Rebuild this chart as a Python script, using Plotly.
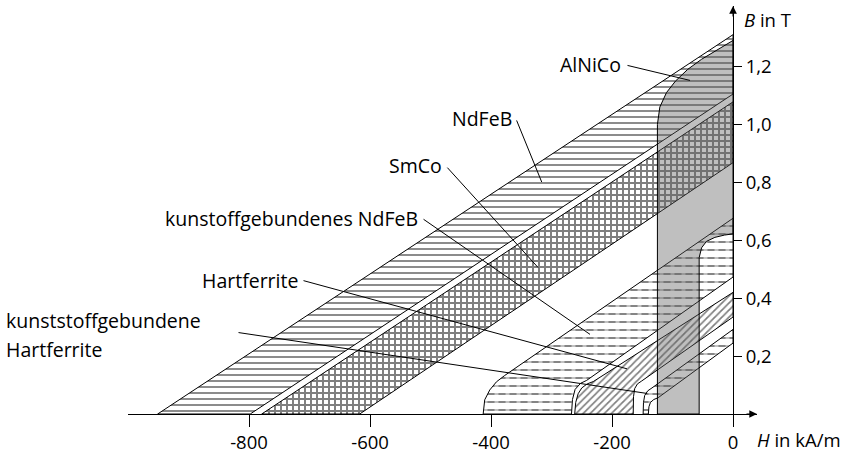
import plotly.graph_objects as go

# ---------------- data ----------------
H_TICKS = [-800, -600, -400, -200, 0]
H_TICK_TEXT = ["-800", "-600", "-400", "-200", "0"]
B_TICKS = [0.2, 0.4, 0.6, 0.8, 1.0, 1.2]
B_TICK_TEXT = ["0,2", "0,4", "0,6", "0,8", "1,0", "1,2"]

# demagnetisation curves (H in kA/m, B in T): upper (hi) and lower (lo) limit of each band
ndfeb_hi_H = [-951, 0]
ndfeb_hi_B = [0, 1.31]
ndfeb_lo_H = [-798, 0]
ndfeb_lo_B = [0, 1.105]

smco_hi_H = [-779, 0]
smco_hi_B = [0, 1.078]
smco_lo_H = [-617, 0]
smco_lo_B = [0, 0.868]

kndfeb_hi_H = [-413, -410.4, -402.1, -391.1, -377.4, -369.1, 0]
kndfeb_hi_B = [0, 0.049, 0.083, 0.111, 0.133, 0.145, 0.676]
kndfeb_lo_H = [-267, -265.4, -261, -252, -242, 0]
kndfeb_lo_B = [0, 0.05, 0.085, 0.106, 0.116, 0.473]

hf_hi_H = [-261.7, -260, -256, -250, -241, -231, 0]
hf_hi_B = [0, 0.04, 0.07, 0.09, 0.104, 0.112, 0.42]
hf_lo_H = [-165, -164.5, -162.5, -158, -151, 0]
hf_lo_B = [0, 0.06, 0.088, 0.104, 0.114, 0.335]

khf_hi_H = [-148.6, -148, -146, -141, -134, 0]
khf_hi_B = [0, 0.04, 0.064, 0.08, 0.09, 0.292]
khf_lo_H = [-140, -139, -136.5, -131, -124, 0]
khf_lo_B = [0, 0.025, 0.04, 0.05, 0.056, 0.245]

alnico_hi_H = [-125, -125, -121, -110, -95, -75, -52, -25, 0]
alnico_hi_B = [0, 1.0, 1.06, 1.11, 1.15, 1.19, 1.225, 1.26, 1.29]
alnico_lo_H = [-56, -56, -52, -44, -30, -14, 0]
alnico_lo_B = [0, 0.54, 0.574, 0.596, 0.61, 0.618, 0.622]

# labels and leader lines (leader tail / head in H, B)
LABELS = ["AlNiCo", "NdFeB", "SmCo", "kunstoffgebundenes NdFeB", "Hartferrite",
          "kunststoffgebundene", "Hartferrite"]
LEADER_TAIL_H = [-176.9, -358.7, -474.4, -514.0, -712.4, -819.8]
LEADER_TAIL_B = [1.205, 1.019, 0.856, 0.676, 0.462, 0.282]
LEADER_HEAD_H = [-71.1, -316.2, -322.3, -236.4, -175.2, -142.1]
LEADER_HEAD_B = [1.152, 0.801, 0.506, 0.275, 0.156, 0.071]

# ---------------- layout geometry ----------------
W, HGT = 845, 460
ML, MR, MT, MB = 128, 88, 6, 39
X_RANGE = [-1000, 39.6]
Y_RANGE = [0, 1.409]
PW, PH = W - ML - MR, HGT - MT - MB


def px(xpix):
    return (xpix - ML) / PW


def py(ypix):
    return (HGT - MB - ypix) / PH


# label anchor positions in pixels
LABEL_PX = [623, 514, 444, 420, 300, 4, 4]
LABEL_PY = [66, 120, 168, 222, 285, 326, 355]
LABEL_ANCHOR = ["right", "right", "right", "right", "right", "left", "left"]

FONT = "Open Sans"
FS_LABEL = 19.5
FS_TICK = 18.5

fig = go.Figure()


def band(hiH, hiB, loH, loB):
    xs = list(hiH) + list(loH)[::-1] + [hiH[0]]
    ys = list(hiB) + list(loB)[::-1] + [hiB[0]]
    return xs, ys


def add_fill(xs, ys, pattern=None, fillcolor="rgba(0,0,0,0)", lw=1.0):
    kw = dict(x=xs, y=ys, mode="lines", fill="toself", fillcolor=fillcolor,
              line=dict(color="black", width=lw), hoverinfo="skip", showlegend=False)
    if pattern is not None:
        kw["fillpattern"] = pattern
    fig.add_trace(go.Scatter(**kw))


WHITE = "white"
CLEAR = "rgba(0,0,0,0)"

# NdFeB: horizontal lines
x, y = band(ndfeb_hi_H, ndfeb_hi_B, ndfeb_lo_H, ndfeb_lo_B)
add_fill(x, y, dict(shape="-", size=6, solidity=0.3, fgcolor="black", bgcolor=WHITE))

# SmCo: cross hatch
x, y = band(smco_hi_H, smco_hi_B, smco_lo_H, smco_lo_B)
add_fill(x, y, dict(shape="+", size=6, solidity=0.55, fgcolor="black", bgcolor=WHITE))

# plastic bonded NdFeB: dashes
DASH_ROWS = dict(shape="-", size=8, solidity=0.24, fgcolor="black", bgcolor=WHITE)
DASH_GAPS = dict(shape="|", size=11, solidity=0.36, fgcolor=WHITE, bgcolor=CLEAR)
x, y = band(kndfeb_hi_H, kndfeb_hi_B, kndfeb_lo_H, kndfeb_lo_B)
add_fill(x, y, DASH_ROWS, lw=0)
add_fill(x, y, DASH_GAPS)

# hard ferrite: diagonal hatch
x, y = band(hf_hi_H, hf_hi_B, hf_lo_H, hf_lo_B)
add_fill(x, y, dict(shape="/", size=5, solidity=0.34, fgcolor="black", bgcolor=WHITE))

# plastic bonded hard ferrite: dashes
x, y = band(khf_hi_H, khf_hi_B, khf_lo_H, khf_lo_B)
add_fill(x, y, DASH_ROWS, lw=0)
add_fill(x, y, DASH_GAPS)

# AlNiCo: grey overlay
x, y = band(alnico_hi_H, alnico_hi_B, alnico_lo_H, alnico_lo_B)
add_fill(x, y, None, fillcolor="rgba(95,95,95,0.4)", lw=1.0)

annotations = []
# leader lines
for th, tb, hh, hb in zip(LEADER_TAIL_H, LEADER_TAIL_B, LEADER_HEAD_H, LEADER_HEAD_B):
    annotations.append(dict(x=hh, y=hb, xref="x", yref="y", ax=th, ay=tb, axref="x", ayref="y",
                            text="", showarrow=True, arrowhead=0, arrowwidth=1, arrowcolor="black",
                            standoff=0, startstandoff=0))
# label texts
for t, lx, ly, anc in zip(LABELS, LABEL_PX, LABEL_PY, LABEL_ANCHOR):
    annotations.append(dict(x=px(lx), y=py(ly), xref="paper", yref="paper", text=t,
                            showarrow=False, xanchor=anc, yanchor="middle",
                            font=dict(family=FONT, size=FS_LABEL, color="black")))
# axis titles
annotations.append(dict(x=px(742), y=py(20), xref="paper", yref="paper", text="<i>B</i> in T",
                        showarrow=False, xanchor="left", yanchor="middle",
                        font=dict(family=FONT, size=FS_TICK, color="black")))
annotations.append(dict(x=px(755), y=py(447), xref="paper", yref="paper", text="<i>H</i> in kA/m",
                        showarrow=False, xanchor="left", yanchor="middle",
                        font=dict(family=FONT, size=FS_TICK, color="black")))

Y_POS = (0 - X_RANGE[0]) / (X_RANGE[1] - X_RANGE[0])
# axis arrow heads
annotations.append(dict(x=1, y=0, xref="paper", yref="paper", ax=-12, ay=0, text="",
                        showarrow=True, arrowhead=2, arrowsize=1.4, arrowwidth=1.1, arrowcolor="black"))
annotations.append(dict(x=Y_POS, y=1, xref="paper", yref="paper", ax=0, ay=12, text="",
                        showarrow=True, arrowhead=2, arrowsize=1.4, arrowwidth=1.1, arrowcolor="black"))

fig.update_layout(
    width=W, height=HGT, autosize=False,
    margin=dict(l=ML, r=MR, t=MT, b=MB, pad=0),
    paper_bgcolor="white", plot_bgcolor="white",
    font=dict(family=FONT, size=FS_TICK, color="black"),
    showlegend=False,
    annotations=annotations,
    xaxis=dict(range=X_RANGE, domain=[0, 1], showline=True, linecolor="black", linewidth=1,
               ticks="outside", ticklen=12, tickwidth=1, tickcolor="black",
               tickvals=H_TICKS, ticktext=H_TICK_TEXT, showgrid=False, zeroline=False,
               tickfont=dict(family=FONT, size=FS_TICK, color="black"), fixedrange=True),
    yaxis=dict(range=Y_RANGE, anchor="free", position=Y_POS, side="right",
               showline=True, linecolor="black", linewidth=1,
               ticks="outside", ticklen=8, tickwidth=1, tickcolor="black",
               tickvals=B_TICKS, ticktext=B_TICK_TEXT, showgrid=False, zeroline=False,
               tickfont=dict(family=FONT, size=FS_TICK, color="black"), fixedrange=True),
)

# remove the default 8px page margin so the 845x460 figure fills the window exactly
fig.write_html("out.html", config={"displayModeBar": False, "staticPlot": True},
               post_script="document.body.style.margin='0px';")
